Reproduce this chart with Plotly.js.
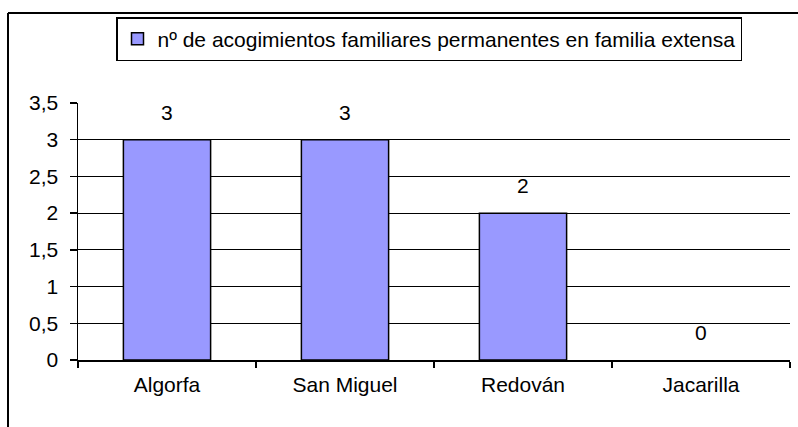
<!DOCTYPE html>
<html>
<head>
<meta charset="utf-8">
<script src="https://cdn.plot.ly/plotly-3.0.1.min.js"></script>
<style>html,body{margin:0;padding:0;background:#fff;}#chart{width:798px;height:427px;}</style>
</head>
<body>
<div id="chart"></div>
<script>
var categories = ["Algorfa", "San Miguel", "Redován", "Jacarilla"];
var values = [3, 3, 2, 0];
var seriesName = "nº de acogimientos familiares permanentes en familia extensa";
var yTickVals = [0, 0.5, 1, 1.5, 2, 2.5, 3, 3.5];
var yTickText = ["0", "0,5", "1", "1,5", "2", "2,5", "3", "3,5"];

var FONT = "Liberation Sans, Arial, sans-serif";
var FS = 21;
var W = 798, H = 427, ML = 78, MR = 8, MT = 103, MB = 67;
var PW = W - ML - MR, PH = H - MT - MB;
function px(x) { return (x - ML) / PW; }
function py(y) { return (H - MB - y) / PH; }

var trace = {
  type: "bar",
  x: categories,
  y: values,
  name: seriesName,
  width: 0.49,
  marker: {
    color: "#9999FF",
    line: { color: "#000000", width: values.map(function (v) { return v === 0 ? 0 : 1.5; }) }
  },
  showlegend: true,
  hoverinfo: "none"
};

var annotations = categories.map(function (c, i) {
  return {
    x: c, y: values[i], xref: "x", yref: "y",
    text: String(values[i]), showarrow: false,
    yanchor: "bottom", yshift: 14,
    font: { family: FONT, size: FS, color: "#000" }
  };
});

var layout = {
  width: W, height: H,
  margin: { l: ML, r: MR, t: MT, b: MB, pad: 0 },
  paper_bgcolor: "#ffffff",
  plot_bgcolor: "#ffffff",
  font: { family: FONT, size: FS, color: "#000" },
  bargap: 0.51,
  xaxis: {
    type: "category",
    showline: true, linecolor: "#000", linewidth: 1.5,
    ticks: "outside", tickson: "boundaries", ticklen: 6, tickcolor: "#000", tickwidth: 1.5,
    showgrid: false, zeroline: false,
    ticklabelstandoff: 5,
    tickfont: { family: FONT, size: FS, color: "#000" },
    fixedrange: true
  },
  yaxis: {
    range: [0, 3.5],
    tickvals: yTickVals, ticktext: yTickText,
    showline: true, linecolor: "#000", linewidth: 1.5,
    ticks: "outside", ticklen: 7, tickcolor: "#000", tickwidth: 1.5,
    showgrid: true, gridcolor: "#000", gridwidth: 1.2,
    zeroline: false,
    ticklabelstandoff: 7,
    tickfont: { family: FONT, size: FS, color: "#000" },
    fixedrange: true
  },
  legend: {
    x: px(116), y: py(17), xanchor: "left", yanchor: "top",
    bordercolor: "#000", borderwidth: 1.5, bgcolor: "#fff",
    font: { family: FONT, size: FS, color: "#000" },
    itemwidth: 30
  },
  annotations: annotations,
  shapes: [
    { type: "line", xref: "paper", yref: "paper", x0: px(8), x1: px(820), y0: py(13), y1: py(13), line: { color: "#000", width: 2 } },
    { type: "line", xref: "paper", yref: "paper", x0: px(8), x1: px(8), y0: py(13), y1: py(440), line: { color: "#000", width: 2 } }
  ]
};

Plotly.newPlot("chart", [trace], layout, { displayModeBar: false, staticPlot: true });
</script>
</body>
</html>
